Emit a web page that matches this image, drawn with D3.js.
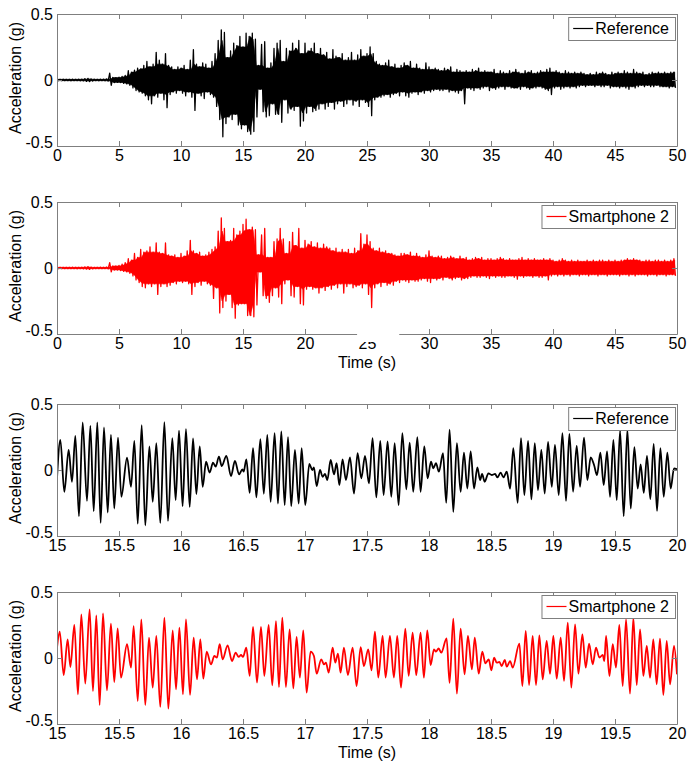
<!DOCTYPE html>
<html><head><meta charset="utf-8">
<script src="https://cdn.jsdelivr.net/npm/d3@7"></script>
<style>
body{margin:0;background:#fff}
svg text{font-family:"Liberation Sans",Arial,Helvetica,sans-serif}
</style>
</head><body>
<svg id="chart" width="696" height="768"></svg>
<script>
// ---------- DATA ----------
const seriesNames = ["Reference", "Smartphone 2"];
const fullTicks = [0, 5, 10, 15, 20, 25, 30, 35, 40, 45, 50];
const zoomTicks = [15, 15.5, 16, 16.5, 17, 17.5, 18, 18.5, 19, 19.5, 20];
const yTicks = [-0.5, 0, 0.5];
const binStep = 0.25; // s, width of each envelope bin in the 0-50 s records

// Reference, 0-50 s: max / min acceleration (g) in each 0.25 s bin
const refMax = [
 .006,.005,.006,.005, .005,.006,.005,.006, .006,.010,.012,.008, .006,.005,.006,.006, .008,.052,.020,.018,
 .022,.028,.035,.070, .060,.075,.090,.085, .110,.140,.100,.120, .210,.150,.120,.200, .110,.100,.080,.100,
 .090,.110,.080,.150, .230,.120,.100,.130, .120,.090,.140,.200, .300,.380,.360,.170, .220,.280,.260,.330,
 .250,.355,.330,.355, .310,.110,.270,.290, .090,.130,.240,.280, .300,.140,.240,.220, .280,.240,.300,.200,
 .280,.220,.240,.280, .200,.240,.190,.210, .160,.230,.180,.170, .200,.150,.170,.210, .150,.190,.230,.180,
 .200,.250,.200,.140, .120,.110,.130,.150, .100,.120,.090,.110, .130,.110,.140,.090, .120,.090,.080,.130,
 .100,.080,.090,.080, .070,.090,.080,.100, .060,.080,.070,.060, .070,.060,.080,.070, .090,.060,.070,.060,
 .060,.080,.050,.070, .060,.050,.070,.060, .080,.060,.050,.070, .060,.070,.050,.060, .070,.060,.080,.090,
 .060,.070,.060,.050, .070,.060,.050,.060, .050,.060,.050,.040, .050,.040,.060,.050, .060,.050,.040,.060,
 .050,.060,.050,.070, .060,.050,.080,.060, .050,.060,.040,.050, .060,.050,.060,.050, .060,.050,.060,.060];
const refMin = [
 -.005,-.005,-.005,-.005, -.006,-.005,-.005,-.006, -.006,-.010,-.012,-.008, -.005,-.006,-.005,-.006, -.008,-.040,-.020,-.018,
 -.020,-.025,-.030,-.040, -.060,-.080,-.090,-.100, -.120,-.150,-.180,-.120, -.130,-.100,-.150,-.210, -.110,-.090,-.100,-.080,
 -.100,-.120,-.090,-.130, -.230,-.100,-.120,-.140, -.090,-.110,-.130,-.200, -.300,-.430,-.330,-.280, -.300,-.260,-.340,-.370,
 -.340,-.390,-.410,-.390, -.280,-.070,-.240,-.280, -.270,-.180,-.260,-.260, -.320,-.150,-.250,-.220, -.230,-.200,-.350,-.310,
 -.250,-.200,-.240,-.230, -.220,-.180,-.220,-.200, -.170,-.220,-.180,-.160, -.200,-.180,-.150,-.190, -.160,-.200,-.150,-.170,
 -.200,-.270,-.150,-.130, -.130,-.120,-.110,-.130, -.110,-.100,-.120,-.090, -.120,-.130,-.100,-.090, -.110,-.090,-.100,-.080,
 -.090,-.080,-.070,-.080, -.080,-.070,-.090,-.080, -.090,-.100,-.080,-.180, -.060,-.070,-.080,-.060, -.070,-.060,-.050,-.080,
 -.060,-.070,-.060,-.050, -.070,-.050,-.060,-.060, -.060,-.070,-.050,-.060, -.070,-.060,-.060,-.050, -.060,-.070,-.080,-.110,
 -.060,-.050,-.070,-.060, -.050,-.060,-.050,-.060, -.050,-.040,-.050,-.040, -.040,-.050,-.040,-.050, -.050,-.040,-.060,-.050,
 -.050,-.060,-.050,-.060, -.070,-.050,-.060,-.050, -.040,-.050,-.040,-.050, -.050,-.040,-.050,-.050, -.050,-.060,-.050,-.060];

// Smartphone 2, 0-50 s: max / min acceleration (g) in each 0.25 s bin
const phoneMax = [
 .005,.005,.005,.005, .005,.006,.005,.005, .006,.008,.010,.007, .005,.005,.006,.005, .007,.040,.015,.015,
 .020,.030,.040,.070, .060,.110,.080,.140, .120,.130,.160,.120, .190,.120,.110,.190, .100,.090,.100,.080,
 .110,.090,.130,.210, .130,.110,.120,.090, .100,.120,.140,.160, .280,.380,.300,.200, .210,.300,.250,.280,
 .330,.370,.290,.310, .290,.100,.250,.300, .080,.080,.200,.220, .300,.220,.110,.200, .270,.170,.300,.150,
 .210,.180,.200,.160, .190,.150,.180,.160, .150,.130,.150,.120, .140,.120,.140,.110, .150,.130,.260,.180,
 .250,.200,.150,.130, .150,.120,.130,.110, .110,.100,.090,.110, .110,.100,.120,.090, .110,.090,.080,.100,
 .130,.090,.080,.090, .090,.070,.080,.090, .080,.070,.090,.070, .080,.060,.070,.080, .070,.080,.060,.070,
 .070,.060,.070,.080, .070,.060,.070,.060, .060,.070,.080,.060, .070,.060,.070,.060, .060,.070,.060,.070,
 .060,.050,.060,.070, .060,.050,.060,.050, .060,.050,.050,.060, .050,.060,.050,.060, .060,.050,.060,.050,
 .060,.050,.060,.060, .070,.060,.070,.060, .060,.050,.060,.060, .050,.060,.060,.050, .060,.050,.060,.070];
const phoneMin = [
 -.005,-.005,-.005,-.005, -.005,-.005,-.006,-.005, -.006,-.008,-.010,-.007, -.005,-.005,-.005,-.005, -.007,-.030,-.015,-.015,
 -.020,-.025,-.030,-.040, -.060,-.090,-.110,-.140, -.150,-.120,-.140,-.120, -.200,-.140,-.120,-.140, -.130,-.110,-.120,-.100,
 -.110,-.100,-.120,-.200, -.140,-.110,-.130,-.100, -.120,-.130,-.230,-.150, -.340,-.300,-.250,-.200, -.300,-.380,-.280,-.270,
 -.270,-.360,-.360,-.370, -.280,-.030,-.210,-.230, -.260,-.210,-.150,-.220, -.270,-.120,-.090,-.210, -.220,-.140,-.270,-.280,
 -.160,-.140,-.160,-.150, -.190,-.150,-.170,-.140, -.160,-.130,-.150,-.120, -.190,-.140,-.120,-.150, -.140,-.130,-.150,-.120,
 -.200,-.300,-.150,-.120, -.140,-.110,-.130,-.120, -.130,-.100,-.110,-.090, -.100,-.110,-.090,-.100, -.100,-.090,-.080,-.100,
 -.110,-.080,-.090,-.080, -.090,-.070,-.080,-.090, -.080,-.070,-.090,-.080, -.080,-.070,-.060,-.070, -.070,-.060,-.070,-.080,
 -.060,-.070,-.060,-.070, -.070,-.060,-.060,-.070, -.085,-.060,-.070,-.060, -.060,-.070,-.060,-.070, -.070,-.060,-.090,-.060,
 -.050,-.060,-.050,-.060, -.050,-.060,-.050,-.050, -.060,-.050,-.050,-.060, -.050,-.050,-.060,-.050, -.050,-.060,-.050,-.050,
 -.050,-.060,-.050,-.050, -.060,-.050,-.060,-.050, -.050,-.050,-.060,-.050, -.050,-.060,-.050,-.050, -.060,-.050,-.050,-.060];

// Reference, 15-20 s: successive peaks [time s, acceleration g]
const refDetail = [
[15.000,-0.063],[15.027,0.228],[15.059,-0.165],[15.094,0.152],[15.121,-0.089],[15.148,0.259],[15.177,-0.350],[15.207,0.360],
[15.242,-0.234],[15.269,0.335],[15.296,-0.312],[15.325,0.360],[15.352,-0.401],[15.379,0.322],[15.409,-0.322],[15.435,0.266],
[15.462,-0.292],[15.492,0.246],[15.519,-0.203],[15.565,0.094],[15.597,-0.127],[15.624,0.221],[15.651,-0.406],[15.683,0.340],
[15.712,-0.419],[15.745,0.178],[15.772,-0.241],[15.801,0.203],[15.833,-0.401],[15.866,0.363],[15.895,-0.386],[15.930,0.241],
[15.957,-0.228],[15.984,0.299],[16.013,-0.274],[16.040,0.310],[16.070,-0.279],[16.097,0.239],[16.124,-0.183],[16.151,0.178],
[16.175,-0.127],[16.202,0.063],[16.231,-0.020],[16.258,0.056],[16.280,0.025],[16.306,0.102],[16.328,0.030],[16.366,0.107],
[16.403,-0.046],[16.435,0.069],[16.468,-0.033],[16.495,0.005],[16.505,-0.013],[16.527,0.081],[16.554,-0.173],[16.581,0.165],
[16.608,-0.208],[16.640,0.234],[16.668,-0.180],[16.696,0.266],[16.723,-0.241],[16.755,0.279],[16.782,-0.254],[16.809,0.292],
[16.836,-0.266],[16.863,0.249],[16.889,-0.274],[16.919,0.152],[16.949,-0.254],[16.973,0.165],[17.002,-0.266],[17.035,0.046],
[17.059,0.000],[17.072,0.020],[17.094,-0.122],[17.121,0.000],[17.142,-0.051],[17.161,-0.030],[17.180,-0.076],[17.207,0.076],
[17.234,-0.033],[17.255,0.051],[17.277,-0.114],[17.303,0.081],[17.330,-0.076],[17.363,0.096],[17.395,-0.178],[17.424,0.127],
[17.454,-0.063],[17.484,0.107],[17.516,-0.102],[17.545,0.241],[17.575,-0.208],[17.607,0.221],[17.634,-0.190],[17.666,0.216],
[17.696,-0.203],[17.723,0.203],[17.755,-0.266],[17.785,0.279],[17.817,-0.147],[17.844,0.208],[17.873,-0.165],[17.906,0.249],
[17.932,-0.165],[17.962,0.178],[17.989,-0.063],[18.016,0.063],[18.035,0.013],[18.056,0.051],[18.080,-0.013],[18.113,0.127],
[18.139,-0.249],[18.166,0.305],[18.196,-0.317],[18.225,0.203],[18.255,-0.165],[18.282,0.132],[18.309,-0.140],[18.336,0.140],
[18.363,-0.140],[18.390,0.020],[18.412,-0.076],[18.428,-0.030],[18.449,-0.089],[18.479,-0.025],[18.506,-0.038],[18.533,-0.030],
[18.551,-0.056],[18.578,-0.020],[18.600,-0.056],[18.627,-0.013],[18.654,-0.140],[18.680,0.165],[18.715,-0.249],[18.742,0.241],
[18.769,-0.190],[18.799,0.221],[18.826,-0.223],[18.853,0.203],[18.879,-0.152],[18.906,0.152],[18.933,-0.178],[18.960,0.213],
[18.990,-0.127],[19.016,0.190],[19.046,-0.190],[19.076,0.279],[19.105,-0.234],[19.132,0.274],[19.162,-0.165],[19.191,0.183],
[19.218,-0.127],[19.250,0.246],[19.277,-0.076],[19.304,0.096],[19.331,0.038],[19.355,-0.038],[19.382,0.132],[19.409,-0.114],
[19.436,0.140],[19.460,-0.203],[19.487,0.228],[19.514,-0.228],[19.541,0.299],[19.570,-0.350],[19.600,0.305],[19.627,-0.292],
[19.656,0.173],[19.683,-0.140],[19.707,0.043],[19.732,-0.173],[19.758,0.107],[19.785,-0.221],[19.812,0.198],[19.839,-0.310],
[19.866,0.165],[19.893,-0.203],[19.922,0.132],[19.949,-0.140],[19.976,0.013],[20.000,0.005]];

// Smartphone 2, 15-20 s: successive peaks [time s, acceleration g]
const phoneDetail = [
[15.000,0.078],[15.022,0.199],[15.054,-0.129],[15.086,0.141],[15.108,-0.068],[15.140,0.250],[15.169,-0.275],[15.196,0.331],
[15.228,-0.194],[15.263,0.369],[15.290,-0.250],[15.317,0.323],[15.344,-0.356],[15.371,0.338],[15.403,-0.245],[15.435,0.260],
[15.462,-0.182],[15.489,0.225],[15.516,-0.149],[15.565,0.104],[15.597,-0.073],[15.618,0.242],[15.651,-0.326],[15.680,0.293],
[15.712,-0.356],[15.742,0.154],[15.772,-0.225],[15.801,0.167],[15.833,-0.371],[15.866,0.306],[15.898,-0.384],[15.933,0.210],
[15.960,-0.237],[15.987,0.230],[16.016,-0.275],[16.040,0.293],[16.073,-0.280],[16.102,0.154],[16.129,-0.162],[16.156,0.141],
[16.180,-0.157],[16.207,0.048],[16.242,-0.048],[16.269,0.015],[16.290,0.003],[16.312,0.104],[16.336,-0.010],[16.376,0.096],
[16.411,-0.023],[16.441,0.040],[16.465,0.008],[16.484,0.023],[16.500,0.008],[16.527,0.078],[16.554,-0.136],[16.581,0.235],
[16.613,-0.187],[16.645,0.235],[16.672,-0.136],[16.707,0.250],[16.736,-0.207],[16.766,0.280],[16.790,-0.220],[16.817,0.306],
[16.846,-0.220],[16.876,0.217],[16.906,-0.230],[16.932,0.159],[16.959,-0.149],[16.986,0.210],[17.013,-0.263],[17.045,0.048],
[17.072,0.015],[17.094,-0.119],[17.131,-0.010],[17.153,-0.048],[17.169,-0.035],[17.191,-0.111],[17.223,0.078],[17.244,-0.035],
[17.266,0.033],[17.287,-0.111],[17.314,0.078],[17.346,-0.129],[17.384,0.078],[17.416,-0.212],[17.449,0.083],[17.475,-0.061],
[17.510,0.066],[17.537,-0.093],[17.564,0.199],[17.591,-0.149],[17.626,0.167],[17.650,-0.149],[17.685,0.167],[17.717,-0.149],
[17.744,0.167],[17.774,-0.225],[17.809,0.222],[17.836,-0.136],[17.868,0.192],[17.897,-0.129],[17.932,0.192],[17.959,-0.149],
[17.986,0.210],[18.013,-0.053],[18.040,0.066],[18.056,0.048],[18.078,0.073],[18.099,0.040],[18.142,0.149],[18.166,-0.189],
[18.196,0.298],[18.225,-0.270],[18.255,0.222],[18.287,-0.124],[18.314,0.167],[18.346,-0.086],[18.369,0.154],[18.401,-0.119],
[18.430,0.048],[18.455,-0.040],[18.482,-0.010],[18.503,-0.093],[18.525,0.003],[18.546,-0.035],[18.568,-0.030],[18.586,-0.061],
[18.611,-0.015],[18.627,-0.066],[18.654,-0.023],[18.675,-0.073],[18.729,0.109],[18.753,-0.212],[18.780,0.205],[18.807,-0.205],
[18.836,0.167],[18.863,-0.205],[18.890,0.172],[18.917,-0.162],[18.949,0.129],[18.976,-0.119],[19.003,0.167],[19.030,-0.157],
[19.062,0.154],[19.089,-0.174],[19.119,0.268],[19.148,-0.225],[19.178,0.255],[19.205,-0.119],[19.237,0.179],[19.264,-0.073],
[19.291,0.109],[19.320,-0.048],[19.347,0.078],[19.374,0.003],[19.401,0.023],[19.414,-0.023],[19.428,0.167],[19.455,-0.136],
[19.482,0.104],[19.508,-0.073],[19.535,0.250],[19.562,-0.212],[19.589,0.293],[19.621,-0.270],[19.648,0.306],[19.675,-0.205],
[19.702,0.217],[19.729,-0.136],[19.756,0.091],[19.783,-0.149],[19.809,0.141],[19.836,-0.199],[19.863,0.146],[19.890,-0.280],
[19.917,0.129],[19.944,-0.199],[19.976,0.091],[20.000,-0.124]];

// ---------- DRAWING ----------
const svg = d3.select("#chart");
const FONT = 16, AXIS_COLOR = "#7f7f7f";
const left = 57, right = 677, ph = 132;
const colors = {ref: "#000000", phone: "#ff0000"};

// solid core of the record: the level reached by every neighbouring bin
function envelopeCore(maxArr, minArr) {
  const n = maxArr.length;
  const up = maxArr.map((v, i) => [i * binStep + binStep / 4,
    Math.min(v, maxArr[Math.max(0, i - 1)], maxArr[Math.min(n - 1, i + 1)])]);
  const lo = minArr.map((v, i) => [i * binStep + binStep / 4,
    Math.max(v, minArr[Math.max(0, i - 1)], minArr[Math.min(n - 1, i + 1)])]).reverse();
  return up.concat(lo);
}
// zig-zag through alternating bin extremes (the individual spikes)
function envelopeZigzag(maxArr, minArr) {
  const pts = [];
  maxArr.forEach((v, i) => { pts.push([i * binStep, v]); pts.push([i * binStep + binStep / 2, minArr[i]]); });
  return pts;
}

const panels = [
  {top: 14,  domain: [0, 50],  ticks: fullTicks, env: [refMax, refMin],     color: colors.ref,   name: seriesNames[0], time: false},
  {top: 202, domain: [0, 50],  ticks: fullTicks, env: [phoneMax, phoneMin], color: colors.phone, name: seriesNames[1], time: true, blot: true},
  {top: 404, domain: [15, 20], ticks: zoomTicks, pts: refDetail,   color: colors.ref,   name: seriesNames[0], time: false},
  {top: 592, domain: [15, 20], ticks: zoomTicks, pts: phoneDetail, color: colors.phone, name: seriesNames[1], time: true}
];

function styleAxis(g) {
  g.attr("font-family", null).attr("font-size", null);
  g.select(".domain").attr("stroke", AXIS_COLOR);
  g.selectAll(".tick line").attr("stroke", AXIS_COLOR);
  g.selectAll(".tick text").attr("fill", "#000").style("font-size", FONT + "px");
}

panels.forEach((p, k) => {
  const x = d3.scaleLinear().domain(p.domain).range([left, right]);
  const y = d3.scaleLinear().domain([-0.5, 0.5]).range([p.top + ph, p.top]);
  const clipId = "clip" + k;
  svg.append("clipPath").attr("id", clipId).append("rect")
    .attr("x", left).attr("y", p.top).attr("width", right - left).attr("height", ph);

  const plot = svg.append("g").attr("clip-path", `url(#${clipId})`);
  const line = d3.line().x(d => x(d[0])).y(d => y(d[1]));
  if (p.env) {
    plot.append("path").datum(envelopeCore(p.env[0], p.env[1]))
      .attr("fill", p.color).attr("stroke", p.color).attr("stroke-width", 0.6)
      .attr("stroke-linejoin", "round").attr("d", d => line(d) + "Z");
    plot.append("path").datum(envelopeZigzag(p.env[0], p.env[1]))
      .attr("fill", "none").attr("stroke", p.color).attr("stroke-width", 1.3)
      .attr("stroke-linejoin", "round").attr("d", line);
  } else {
    const smooth = d3.line().x(d => x(d[0])).y(d => y(d[1])).curve(d3.curveMonotoneX);
    plot.append("path").datum(p.pts)
      .attr("fill", "none").attr("stroke", p.color).attr("stroke-width", 1.8)
      .attr("stroke-linejoin", "round").attr("d", smooth);
  }

  const fmt = d => String(d);
  svg.append("g").attr("transform", `translate(0,${p.top + ph})`)
    .call(d3.axisBottom(x).tickValues(p.ticks).tickSize(-5).tickSizeOuter(0).tickPadding(4).tickFormat(fmt)).call(styleAxis);
  svg.append("g").attr("transform", `translate(0,${p.top})`)
    .call(d3.axisTop(x).tickValues(p.ticks).tickSize(-5).tickSizeOuter(0).tickFormat("")).call(styleAxis);
  svg.append("g").attr("transform", `translate(${left},0)`)
    .call(d3.axisLeft(y).tickValues(yTicks).tickSize(-5).tickSizeOuter(0).tickPadding(4).tickFormat(fmt)).call(styleAxis)
    .selectAll(".tick text").attr("dy", d => d < 0 ? "0.1em" : "0.32em");
  svg.append("g").attr("transform", `translate(${right},0)`)
    .call(d3.axisRight(y).tickValues(yTicks).tickSize(-5).tickSizeOuter(0).tickFormat("")).call(styleAxis);

  svg.append("text")
    .attr("transform", `translate(21,${p.top + ph / 2 - 2}) rotate(-90)`)
    .attr("text-anchor", "middle").style("font-size", FONT + "px").attr("fill", "#000")
    .text("Acceleration (g)");

  if (p.time) {
    svg.append("text").attr("x", (left + right) / 2).attr("y", p.top + ph + 34)
      .attr("text-anchor", "middle").style("font-size", FONT + "px").attr("fill", "#000")
      .text("Time (s)");
  }

  // legend
  const lg = svg.append("g");
  const box = lg.append("rect").attr("fill", "#fff").attr("stroke", AXIS_COLOR).attr("stroke-width", 1);
  const txt = lg.append("text").style("font-size", FONT + "px").attr("fill", "#000").text(p.name);
  const tw = txt.node().getComputedTextLength();
  const boxRight = right - 2, boxTop = p.top + 3, boxH = 23;
  const tx = boxRight - 6 - tw;
  const cy = boxTop + boxH / 2;
  txt.attr("x", tx).attr("y", cy + 5.5);
  lg.append("line").attr("x1", tx - 22).attr("x2", tx - 2).attr("y1", cy).attr("y2", cy)
    .attr("stroke", p.color).attr("stroke-width", 1.2);
  const boxLeft = tx - 27;
  box.attr("x", boxLeft + 0.5).attr("y", boxTop + 0.5).attr("width", boxRight - boxLeft).attr("height", boxH);

  if (p.blot) {
    // white blot seen in the source image over the "25" tick of the second panel
    svg.append("rect").attr("x", x(24.2)).attr("y", p.top + ph - 12)
      .attr("width", x(27.6) - x(24.2)).attr("height", 20).attr("fill", "#fff");
  }
});
</script>
</body></html>
